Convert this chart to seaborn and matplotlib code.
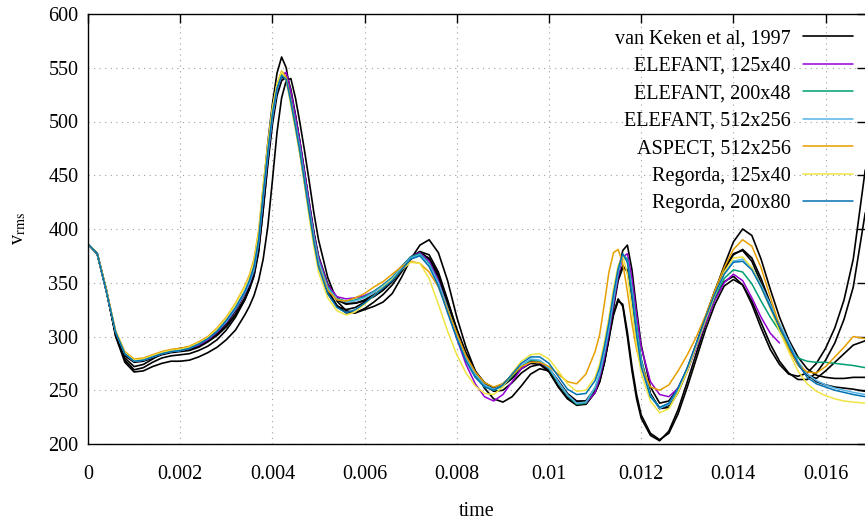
import numpy as np
import seaborn as sns
import matplotlib.pyplot as plt
from matplotlib.lines import Line2D

# time samples (units of 1e-3)
t_ms = [0, 0.2, 0.4, 0.6, 0.8, 1.0, 1.2, 1.4, 1.6, 1.8,
        2.0, 2.2, 2.4, 2.6, 2.8, 3.0, 3.2, 3.4,
        3.5, 3.6, 3.7, 3.8, 3.9, 4.0, 4.1, 4.2, 4.3, 4.4, 4.5, 4.6, 4.7, 4.8, 4.9, 5.0,
        5.2, 5.4, 5.6, 5.8, 6.0, 6.2, 6.4, 6.6, 6.8, 7.0, 7.2, 7.4, 7.6, 7.8, 8.0,
        8.2, 8.4, 8.6, 8.8, 9.0, 9.2, 9.4, 9.6, 9.8, 10.0, 10.2, 10.4, 10.6, 10.8, 11.0,
        11.1, 11.2, 11.3, 11.4, 11.5, 11.6, 11.7, 11.8, 11.9, 12.0,
        12.2, 12.4, 12.6, 12.8, 13.0, 13.2, 13.4, 13.6, 13.8, 14.0, 14.2, 14.4,
        14.6, 14.8, 15.0, 15.2, 15.4, 15.6, 15.8, 16.0, 16.2, 16.4, 16.6, 16.86]

# van Keken et al. 1997 (several codes)
vk_a = [386, 377, 343, 300, 276, 267, 268, 272, 275, 277,
        277, 278, 281, 285, 290, 297, 306, 320,
        328, 338, 352, 372, 402, 445, 490, 522, 538, 540, 522, 498, 472, 444, 415, 390,
        355, 333, 324, 322, 325, 328, 332, 340, 355, 372, 385, 390, 378, 352, 318,
        290, 268, 252, 242, 239, 244, 254, 265, 270, 268, 258, 246, 238, 237, 248,
        258, 276, 300, 330, 360, 380, 385, 362, 325, 292,
        253, 238, 240, 252, 270, 292, 317, 342, 366, 388, 400, 394,
        372, 344, 318, 297, 281, 270, 264, 262, 261, 261, 262, 262]
vk_b = [386, 377, 342, 302, 280, 272, 274, 279, 284, 287,
        289, 290, 293, 297, 303, 312, 324, 340,
        350, 365, 392, 436, 480, 516, 545, 560, 550, 524, 497, 470, 443, 415, 390, 368,
        340, 328, 325, 327, 332, 338, 345, 353, 364, 374, 379, 372, 352, 326, 300,
        279, 264, 255, 252, 256, 264, 272, 277, 276, 270, 258, 246, 239, 240, 252,
        262, 278, 300, 322, 335, 328, 300, 268, 242, 224,
        208, 203, 212, 232, 258, 285, 312, 335, 351, 356, 348, 330,
        308, 288, 274, 265, 263, 266, 275, 289, 308, 334, 372, 455]
vk_c = [386, 377, 343, 301, 278, 269, 271, 276, 280, 282,
        283, 284, 287, 291, 297, 306, 318, 334,
        344, 357, 380, 418, 462, 502, 530, 544, 545, 530, 506, 480, 452, 423, 396, 373,
        343, 329, 322, 322, 326, 332, 339, 348, 360, 372, 379, 376, 360, 334, 306,
        283, 266, 255, 249, 250, 257, 266, 272, 274, 270, 259, 247, 240, 240, 250,
        260, 276, 298, 320, 333, 330, 304, 272, 246, 227,
        210, 204, 210, 228, 253, 280, 307, 330, 347, 353, 348, 333,
        313, 293, 277, 266, 260, 260, 266, 278, 294, 316, 346, 415]
vk_d = [386, 377, 342, 303, 283, 277, 278, 281, 284, 286,
        287, 288, 291, 296, 302, 310, 321, 336,
        346, 358, 382, 424, 466, 502, 528, 541, 540, 522, 500, 476, 448, 420, 394, 372,
        346, 334, 330, 331, 334, 339, 345, 353, 363, 373, 378, 372, 356, 331, 305,
        283, 267, 257, 252, 254, 262, 271, 276, 276, 268, 254, 243, 237, 238, 250,
        260, 278, 302, 330, 355, 366, 360, 336, 304, 275,
        246, 233, 236, 250, 270, 294, 319, 343, 363, 377, 380, 370,
        350, 328, 307, 289, 274, 264, 261, 268, 276, 284, 292, 296]
vk_e = [386, 377, 342, 303, 282, 276, 277, 280, 283, 285,
        286, 287, 290, 295, 301, 309, 320, 334,
        344, 356, 378, 418, 460, 497, 524, 538, 541, 527, 505, 480, 452, 424, 397, 375,
        349, 336, 331, 331, 333, 337, 343, 351, 362, 372, 377, 373, 358, 333, 307,
        285, 268, 257, 252, 254, 261, 270, 275, 274, 267, 253, 242, 236, 237, 248,
        258, 275, 298, 327, 352, 364, 362, 340, 308, 278,
        247, 233, 234, 248, 268, 292, 318, 342, 362, 376, 381, 373,
        354, 331, 309, 291, 276, 265, 258, 255, 253, 252, 251, 249]

# ELEFANT 125x40 (run stops near 0.015)
el_125 = [386, 377, 342, 304, 284, 277, 278, 281, 284, 286,
          287, 289, 292, 297, 304, 313, 325, 340,
          349, 361, 386, 427, 467, 503, 529, 542, 546, 528, 505, 480, 452, 424, 396, 374,
          348, 337, 335, 336, 338, 342, 348, 355, 365, 374, 378, 370, 352, 326, 298,
          274, 256, 244, 240, 246, 258, 270, 276, 276, 270, 258, 245, 238, 238, 248,
          262, 280, 303, 330, 356, 374, 377, 354, 320, 290,
          258, 246, 244, 252, 268, 290, 313, 334, 350, 358, 352, 336,
          318, 303, 294, None, None, None, None, None, None, None, None, None]
el_200 = [386, 377, 342, 304, 284, 277, 278, 281, 284, 286,
          287, 289, 293, 298, 305, 314, 326, 341,
          350, 362, 387, 429, 469, 504, 530, 543, 541, 521, 499, 475, 447, 419, 393, 371,
          346, 335, 333, 334, 337, 342, 348, 355, 365, 374, 377, 368, 350, 326, 301,
          279, 264, 254, 250, 254, 263, 272, 278, 277, 270, 257, 245, 237, 238, 252,
          265, 284, 307, 334, 360, 376, 372, 345, 310, 279,
          245, 234, 237, 250, 269, 292, 316, 337, 354, 362, 360, 349,
          333, 318, 305, 290, 280, 277, 276, 276, 275, 274, 273, 271]
el_512 = [386, 377, 342, 304, 284, 277, 278, 281, 284, 286,
          287, 289, 293, 298, 305, 314, 326, 341,
          350, 363, 388, 430, 470, 505, 530, 543, 540, 520, 498, 474, 446, 418, 392, 370,
          345, 335, 332, 333, 336, 341, 347, 354, 364, 373, 376, 367, 350, 326, 302,
          280, 265, 255, 251, 255, 264, 273, 279, 278, 271, 258, 246, 238, 239, 253,
          266, 285, 308, 335, 360, 376, 370, 342, 306, 276,
          245, 233, 237, 251, 270, 293, 317, 339, 358, 370, 372, 364,
          348, 330, 312, 295, 277, 265, 259, 255, 252, 250, 248, 246]
aspect_512 = [386, 377, 343, 305, 286, 279, 280, 283, 286, 288,
              289, 291, 295, 300, 308, 318, 331, 347,
              357, 372, 398, 440, 478, 512, 535, 547, 541, 519, 495, 470, 442, 414, 388, 366,
              343, 334, 333, 336, 340, 346, 351, 358, 365, 370, 368, 360, 346, 325, 303,
              282, 267, 257, 253, 256, 264, 272, 276, 276, 272, 265, 258, 256, 265, 286,
              302, 330, 360, 378, 381, 368, 342, 312, 288, 272,
              253, 250, 255, 268, 283, 300, 320, 343, 364, 381, 390, 384,
              364, 337, 310, 288, 274, 267, 266, 272, 281, 290, 300, 298]
reg_125 = [386, 377, 343, 305, 285, 278, 279, 282, 285, 287,
           288, 290, 294, 299, 307, 317, 330, 346,
           355, 370, 396, 440, 478, 512, 535, 546, 538, 515, 492, 468, 440, 410, 383, 360,
           336, 324, 320, 323, 330, 338, 346, 353, 362, 369, 368, 354, 330, 305, 283,
           266, 254, 247, 246, 253, 266, 277, 283, 284, 279, 268, 256, 249, 250, 262,
           275, 295, 318, 345, 366, 375, 358, 325, 292, 266,
           240, 229, 233, 248, 268, 292, 316, 339, 360, 373, 374, 364,
           346, 326, 305, 286, 268, 256, 249, 245, 242, 240, 239, 238]
reg_200 = [386, 377, 342, 304, 284, 277, 278, 281, 284, 286,
           287, 289, 293, 298, 305, 315, 327, 342,
           352, 365, 390, 433, 472, 507, 531, 543, 539, 518, 495, 471, 443, 415, 388, 365,
           340, 327, 322, 325, 331, 338, 345, 352, 362, 372, 375, 365, 347, 322, 298,
           277, 262, 253, 250, 255, 265, 275, 281, 281, 275, 263, 251, 246, 247, 259,
           271, 290, 313, 340, 363, 377, 369, 338, 302, 272,
           244, 234, 238, 252, 271, 294, 318, 340, 358, 369, 370, 362,
           346, 327, 309, 292, 275, 262, 256, 253, 250, 248, 246, 244]

keken = [vk_a, vk_b, vk_c, vk_d, vk_e]
runs = [el_125, el_200, el_512, aspect_512, reg_125, reg_200]
run_labels = ['ELEFANT, 125x40', 'ELEFANT, 200x48', 'ELEFANT, 512x256',
              'ASPECT, 512x256', 'Regorda, 125x40', 'Regorda, 200x80']
run_colors = ['#9400d3', '#009e73', '#56b4e9', '#e69f00', '#f0e442', '#0072b2']

x_ticks = [0, 0.002, 0.004, 0.006, 0.008, 0.01, 0.012, 0.014, 0.016]
x_ticklabels = ['0', '0.002', '0.004', '0.006', '0.008', '0.01', '0.012', '0.014', '0.016']
y_ticks = [200, 250, 300, 350, 400, 450, 500, 550, 600]

sns.set_theme(style='white')
plt.rcParams['font.family'] = ['Liberation Serif', 'DejaVu Serif']
plt.rcParams['mathtext.fontset'] = 'stix'
plt.rcParams['font.size'] = 14.5
for k in ['text.color', 'axes.labelcolor', 'xtick.color', 'ytick.color']:
    plt.rcParams[k] = 'black'

fig = plt.figure(figsize=(8.65, 5.21), dpi=100)
ax = fig.add_axes([88/865, 1 - 444/521, (866 - 88)/865, (444 - 14)/521])

time = np.array(t_ms) * 1e-3

# reference curves first, then the runs on top
for v in keken:
    sns.lineplot(x=time, y=np.array(v, dtype=float), color='black', lw=1.2,
                 estimator=None, sort=False, ax=ax)
for v, c in zip(runs, run_colors):
    sns.lineplot(x=time, y=np.array(v, dtype=float), color=c, lw=1.1,
                 estimator=None, sort=False, ax=ax)

ax.set_xlim(0, (866 - 88) / 46100)
ax.set_ylim(200, 600)
ax.set_xticks(x_ticks)
ax.set_xticklabels(x_ticklabels)
ax.set_yticks(y_ticks)
ax.set_yticklabels([str(y) for y in y_ticks])
ax.tick_params(direction='in', length=6.5, width=1.0, top=True, right=True,
               labelsize=14.5)
ax.tick_params(axis='x', pad=15)
ax.tick_params(axis='y', pad=7)
ax.grid(True, color='#a0a0a0', linestyle=(0, (1, 4)), linewidth=0.8)
ax.set_axisbelow(True)
for s in ax.spines.values():
    s.set_color('black')
    s.set_linewidth(1.0)

ax.set_xlabel('time', fontsize=14.5, labelpad=13)
ax.set_ylabel(r'v$_{\rm rms}$', fontsize=14.5, labelpad=14)

handles = [Line2D([], [], color='black', lw=1.2)]
handles += [Line2D([], [], color=c, lw=1.1) for c in run_colors]
labels = ['van Keken et al, 1997'] + run_labels
ax.legend(handles, labels, loc='upper right', bbox_to_anchor=(853/865, 1 - 29/521),
          bbox_transform=fig.transFigure, frameon=False, markerfirst=False,
          borderpad=0, borderaxespad=0, handlelength=2.5, handletextpad=0.6,
          labelspacing=0.42, fontsize=14.5)

fig.savefig('out.png', dpi=100)
